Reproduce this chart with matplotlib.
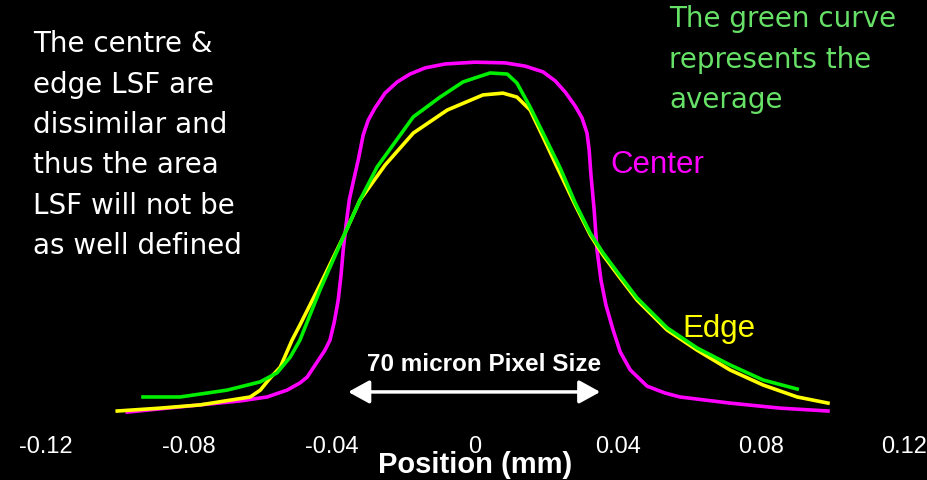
import matplotlib
matplotlib.use('Agg')
import matplotlib.pyplot as plt

plt.rcParams['font.family'] = ['Liberation Sans', 'DejaVu Sans']

# LSF curves, position in mm and relative signal
center_x = [-0.0973, -0.0881, -0.0769, -0.0657, -0.0582, -0.0526, -0.0490,
            -0.0470, -0.0442, -0.0420, -0.0406, -0.0394, -0.0383, -0.0375,
            -0.0369, -0.0361, -0.0352, -0.0341, -0.0327, -0.0313, -0.0299,
            -0.0280, -0.0252, -0.0218, -0.0182, -0.0140, -0.0084, 0.0,
            0.0084, 0.0140, 0.0190, 0.0224, 0.0252, 0.0280, 0.0299, 0.0313,
            0.0319, 0.0324, 0.0333, 0.0341, 0.0352, 0.0366, 0.0386, 0.0406,
            0.0434, 0.0481, 0.0531, 0.0573, 0.0713, 0.0853, 0.0987]
center_y = [0.022, 0.031, 0.042, 0.053, 0.064, 0.083, 0.103, 0.119, 0.161,
            0.194, 0.222, 0.272, 0.333, 0.403, 0.472, 0.542, 0.611, 0.661,
            0.722, 0.792, 0.833, 0.867, 0.908, 0.939, 0.961, 0.978, 0.989,
            0.994, 0.992, 0.983, 0.967, 0.942, 0.911, 0.872, 0.839, 0.797,
            0.750, 0.681, 0.583, 0.472, 0.389, 0.319, 0.250, 0.189, 0.139,
            0.094, 0.075, 0.064, 0.047, 0.033, 0.025]

edge_x = [-0.1001, -0.0881, -0.0769, -0.0629, -0.0601, -0.0573, -0.0545,
          -0.0512, -0.0490, -0.0434, -0.0369, -0.0322, -0.0252, -0.0173,
          -0.0078, 0.0022, 0.0078, 0.0117, 0.0154, 0.0190, 0.0229, 0.0280,
          0.0322, 0.0358, 0.0406, 0.0453, 0.0537, 0.0621, 0.0713, 0.0806,
          0.0901, 0.0987]
edge_y = [0.025, 0.033, 0.042, 0.064, 0.083, 0.117, 0.147, 0.222, 0.264,
          0.375, 0.508, 0.611, 0.708, 0.797, 0.861, 0.903, 0.908, 0.897,
          0.861, 0.786, 0.703, 0.597, 0.514, 0.458, 0.394, 0.333, 0.250,
          0.194, 0.139, 0.097, 0.064, 0.047]

avg_x = [-0.0929, -0.0825, -0.0694, -0.0601, -0.0554, -0.0517, -0.0490,
         -0.0434, -0.0369, -0.0322, -0.0274, -0.0173, -0.0098, -0.0034,
         0.0008, 0.0042, 0.0090, 0.0117, 0.0154, 0.0190, 0.0238, 0.0280,
         0.0322, 0.0358, 0.0406, 0.0453, 0.0537, 0.0621, 0.0713, 0.0806,
         0.0901]
avg_y = [0.064, 0.064, 0.083, 0.106, 0.131, 0.175, 0.222, 0.361, 0.508,
         0.611, 0.703, 0.842, 0.897, 0.939, 0.953, 0.964, 0.961, 0.936,
         0.869, 0.797, 0.700, 0.603, 0.519, 0.464, 0.400, 0.339, 0.256,
         0.200, 0.153, 0.111, 0.086]

xticks = [-0.12, -0.08, -0.04, 0, 0.04, 0.08, 0.12]
xtick_labels = ['-0.12', '-0.08', '-0.04', '0', '0.04', '0.08', '0.12']

W, H = 927, 480
fig = plt.figure(figsize=(W / 100, H / 100), dpi=100, facecolor='black')
ax = fig.add_axes([0, 48 / H, 1, 1 - 48 / H], facecolor='black')

ax.plot(center_x, center_y, color='#ff00ff', lw=2.6, solid_joinstyle='round')
ax.plot(edge_x, edge_y, color='#ffff00', lw=2.6, solid_joinstyle='round')
ax.plot(avg_x, avg_y, color='#00ee00', lw=2.6, solid_joinstyle='round')

ax.set_xlim(-0.1329, 0.1264)
ax.set_ylim(-0.0333, 1.1667)
for s in ax.spines.values():
    s.set_visible(False)
ax.set_yticks([])
ax.set_xticks(xticks)
ax.set_xticklabels(xtick_labels)
ax.tick_params(axis='x', length=0, pad=3, labelsize=17, labelcolor='white')

# pixel size arrow
ax.annotate('', xy=(0.035, 0.078), xytext=(-0.0355, 0.078),
            arrowprops=dict(arrowstyle='<|-|>,head_length=0.4,head_width=0.22',
                            color='white', lw=2.5, mutation_scale=32,
                            shrinkA=0, shrinkB=0))


def ft(px, py, s, **kw):
    fig.text(px / W, 1 - py / H, s, **kw)


ft(484.5, 371, '70 micron Pixel Size', color='white', fontsize=17.5,
   fontweight='bold', ha='center', va='baseline')
ft(475, 473, 'Position (mm)', color='white', fontsize=21,
   fontweight='bold', ha='center', va='baseline')
ft(610, 173, 'Center', color='#ff00ff', fontsize=22.5, va='baseline')
ft(682, 337, 'Edge', color='#ffff00', fontsize=22.5, va='baseline')
# multi-line blocks: anchored at the baseline of their last line
ft(33, 254, 'The centre &\nedge LSF are\ndissimilar and\nthus the area\n'
   'LSF will not be\nas well defined', color='white', fontsize=20,
   family='DejaVu Sans', va='baseline', linespacing=1.56)
ft(669, 108, 'The green curve\nrepresents the\naverage', color='#66e066',
   fontsize=20, family='DejaVu Sans', va='baseline', linespacing=1.56)

fig.savefig('out.png', dpi=100, facecolor='black')
